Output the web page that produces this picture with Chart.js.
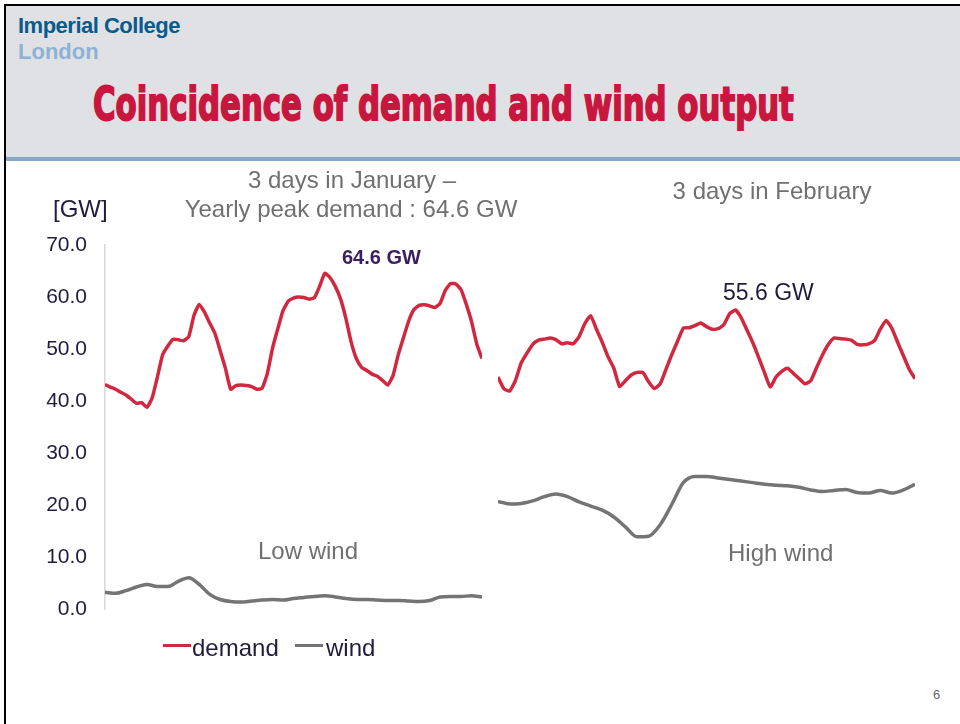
<!DOCTYPE html>
<html>
<head>
<meta charset="utf-8">
<script src="https://cdn.jsdelivr.net/npm/chart.js@4.4.1/dist/chart.umd.min.js"></script>
<style>
  body { margin: 0; width: 960px; height: 724px; overflow: hidden; background: #fff; font-family: "Liberation Sans", Arial, sans-serif; }
  .abs { position: absolute; white-space: nowrap; }
  .c { transform: translateX(-50%); }
  .gray { color: #707070; font-size: 24px; line-height: 24px; }
  .dark { color: #211c3d; }
  canvas { position: absolute; }
</style>
</head>
<body>
<div class="abs" style="left:4px;top:4px;width:956px;height:2px;background:#000"></div>
<div class="abs" style="left:4px;top:4px;width:2px;height:720px;background:#000"></div>
<div class="abs" style="left:6px;top:6px;width:954px;height:151px;background:#e0e1e5"></div>
<div class="abs" style="left:6px;top:157px;width:954px;height:4px;background:#86a8c8"></div>

<div class="abs" style="left:18px;top:15px;font-size:22px;line-height:22px;font-weight:bold;letter-spacing:-0.5px;color:#0b5a8c">Imperial College</div>
<div class="abs" style="left:18px;top:41px;font-size:22px;line-height:22px;font-weight:bold;color:#8db2d4">London</div>
<div id="title" class="abs" style="left:93px;top:80px;font-family:'Liberation Sans Narrow','DejaVu Sans Condensed',sans-serif;font-size:47px;line-height:47px;font-weight:bold;color:#c8163e;-webkit-text-stroke:1.8px #c8163e;transform-origin:0 0">Coincidence of demand and wind output</div>

<canvas id="janChart" width="490" height="480" style="left:0;top:160px"></canvas>
<canvas id="febChart" width="440" height="470" style="left:490px;top:160px"></canvas>

<div class="abs dark" style="left:53px;top:197px;font-size:24px;line-height:24px">[GW]</div>
<div class="abs gray c" style="left:352px;top:168px">3 days in January –</div>
<div class="abs gray c" style="left:351px;top:197px">Yearly peak demand : 64.6 GW</div>
<div class="abs gray c" style="left:772px;top:179px">3 days in February</div>
<div class="abs" style="left:342px;top:247px;font-size:20px;line-height:20px;font-weight:bold;color:#3b1e5e">64.6 GW</div>
<div class="abs dark" style="left:723px;top:281px;font-size:23px;line-height:23px">55.6 GW</div>
<div class="abs gray" style="left:258px;top:539px">Low wind</div>
<div class="abs gray" style="left:728px;top:541px">High wind</div>

<div class="abs" style="left:163px;top:644px;width:28px;height:3px;background:#d1283f"></div>
<div class="abs dark" style="left:192px;top:636px;font-size:24px;line-height:24px">demand</div>
<div class="abs" style="left:295px;top:644px;width:28px;height:3px;background:#747474"></div>
<div class="abs dark" style="left:326px;top:636px;font-size:24px;line-height:24px">wind</div>

<div class="abs" style="left:933px;top:688px;font-size:13px;line-height:13px;color:#666">6</div>

<script>
// hourly demand, GW
const janDemand = [
  43.2, 42.7, 42.3, 41.7, 41.2, 40.4, 39.6, 39.7, 38.8, 40.6,
  44.6, 48.9, 50.6, 51.9, 51.8, 51.6, 52.4, 56.5, 58.6, 57.1,
  55.0, 53.0, 49.7, 46.3, 42.3, 43.0, 43.1, 43.0, 42.8, 42.3,
  42.5, 45.3, 50.2, 53.9, 57.4, 59.2, 59.8, 60.0, 59.9, 59.6,
  59.9, 62.1, 64.6, 63.7, 62.0, 59.6, 55.9, 51.4, 48.2, 46.5,
  45.9, 45.2, 44.8, 44.0, 43.1, 44.9, 48.9, 52.2, 55.4, 57.6,
  58.4, 58.5, 58.3, 58.0, 58.8, 61.3, 62.6, 62.5, 61.4, 58.6,
  55.3, 51.0, 48.2
];
const febDemand = [
  44.6, 42.4, 41.9, 43.9, 47.3, 49.2, 50.9, 51.7, 51.9, 52.1,
  51.8, 51.0, 51.2, 51.0, 52.4, 54.9, 56.4, 53.8, 51.3, 48.5,
  46.3, 42.8, 43.9, 45.0, 45.5, 45.5, 43.7, 42.4, 43.3, 46.1,
  48.9, 51.5, 54.0, 54.1, 54.5, 55.0, 54.3, 53.8, 53.9, 54.7,
  56.8, 57.5, 56.0, 53.6, 51.2, 48.4, 45.5, 42.7, 44.6, 45.7,
  46.3, 45.3, 44.3, 43.3, 43.9, 46.4, 48.8, 50.8, 52.1, 52.0,
  51.9, 51.7, 50.9, 50.8, 51.0, 51.6, 53.8, 55.5, 54.0, 51.3,
  48.7, 46.1, 44.3
];
// wind output every 2 hours, GW
const janWind = [
  3.3, 3.1, 3.6, 4.3, 4.8, 4.4, 4.4, 5.4, 6.1, 4.8,
  2.9, 1.9, 1.5, 1.4, 1.6, 1.8, 1.9, 1.8, 2.1, 2.3,
  2.5, 2.6, 2.4, 2.1, 1.9, 1.9, 1.8, 1.7, 1.7, 1.6,
  1.5, 1.7, 2.4, 2.5, 2.5, 2.6, 2.4
];
const febWind = [
  20.7, 20.2, 20.3, 20.8, 21.6, 22.1, 21.6, 20.6, 19.8, 19.0,
  17.7, 15.8, 13.9, 14.0, 16.2, 20.1, 24.3, 25.5, 25.5, 25.2,
  24.9, 24.6, 24.3, 24.0, 23.8, 23.7, 23.4, 22.9, 22.6, 22.8,
  23.0, 22.4, 22.3, 22.8, 22.3, 22.9, 24.0
];
const yTicks = [0, 10, 20, 30, 40, 50, 60, 70];
const demandStep = 1;
const windStep = 2;

const redLine = '#d1283f';
const grayLine = '#747474';

function points(values, step) {
  return values.map((v, i) => ({ x: i * step, y: v }));
}

function makeChart(id, demand, wind, withAxis, padding) {
  const ctx = document.getElementById(id).getContext('2d');
  const yAxis = {
    display: withAxis,
    min: yTicks[0],
    max: yTicks[yTicks.length - 1],
    afterBuildTicks: s => { s.ticks = yTicks.map(v => ({ value: v })); },
    grid: { display: false, drawTicks: false },
    border: { display: true, color: '#d9d9d9', width: 1.5 },
    ticks: {
      padding: 18,
      color: '#211c3d',
      font: { family: 'Liberation Sans', size: 21 },
      callback: v => v.toFixed(1)
    }
  };
  if (withAxis) yAxis.afterFit = s => { s.width = 105; };

  return new Chart(ctx, {
    type: 'line',
    data: {
      datasets: [
        {
          label: 'demand',
          data: points(demand, demandStep),
          borderColor: redLine,
          borderWidth: 3.5,
          tension: 0.15,
          pointRadius: 0,
          borderJoinStyle: 'round'
        },
        {
          label: 'wind',
          data: points(wind, windStep),
          borderColor: grayLine,
          borderWidth: 3.5,
          cubicInterpolationMode: 'monotone',
          pointRadius: 0,
          borderJoinStyle: 'round'
        }
      ]
    },
    options: {
      responsive: false,
      animation: false,
      layout: { padding: padding },
      plugins: { legend: { display: false }, tooltip: { enabled: false } },
      scales: {
        x: { type: 'linear', min: 0, max: 72, display: false },
        y: yAxis
      }
    }
  });
}

makeChart('janChart', janDemand, janWind, true, { top: 85, bottom: 10, left: 0, right: 8 });
makeChart('febChart', febDemand, febWind, false, { top: 85, bottom: 21, left: 8, right: 15 });

const title = document.getElementById('title');
title.style.transform = 'scaleX(' + (701 / title.offsetWidth) + ')';
</script>
</body>
</html>
